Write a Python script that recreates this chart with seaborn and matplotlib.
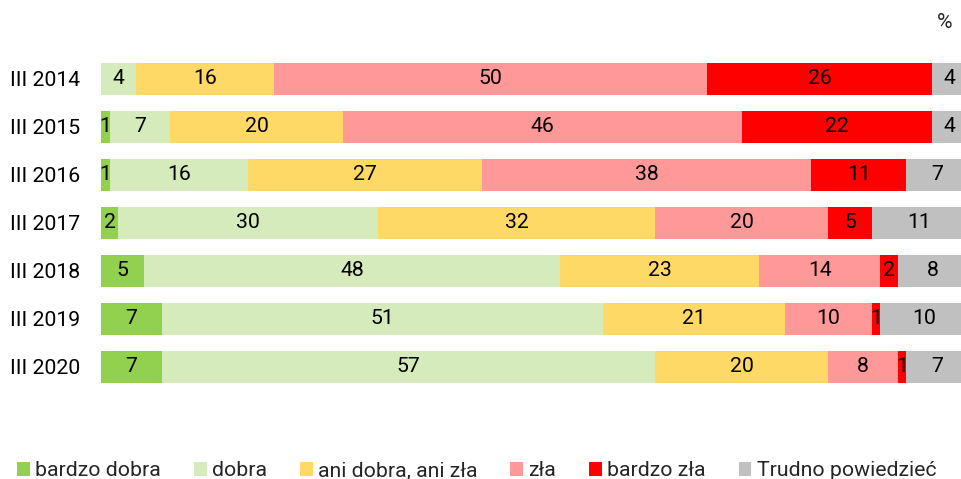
import numpy as np
import pandas as pd
import matplotlib
matplotlib.use('Agg')
import matplotlib.pyplot as plt
import seaborn as sns
from matplotlib.patches import Patch

sns.set_style('white')
plt.rcParams['font.family'] = ['Roboto', 'DejaVu Sans']

# Data (percent)
years = ['III 2014', 'III 2015', 'III 2016', 'III 2017',
         'III 2018', 'III 2019', 'III 2020']
categories = ['bardzo dobra', 'dobra', 'ani dobra, ani zła', 'zła',
              'bardzo zła', 'Trudno powiedzieć']
bardzo_dobra = [0, 1, 1, 2, 5, 7, 7]
dobra = [4, 7, 16, 30, 48, 51, 57]
ani_dobra_ani_zla = [16, 20, 27, 32, 23, 21, 20]
zla = [50, 46, 38, 20, 14, 10, 8]
bardzo_zla = [26, 22, 11, 5, 2, 1, 1]
trudno = [4, 4, 7, 11, 8, 10, 7]

colors = ['#92D050', '#D5EBBB', '#FFD966', '#FF9999', '#FF0000', '#C0C0C0']
font_size = 15.3

df = pd.DataFrame({'year': years,
                   categories[0]: bardzo_dobra,
                   categories[1]: dobra,
                   categories[2]: ani_dobra_ani_zla,
                   categories[3]: zla,
                   categories[4]: bardzo_zla,
                   categories[5]: trudno})
cum = df[categories].cumsum(axis=1)

fig = plt.figure(figsize=(9.61, 4.79), dpi=100)
ax = fig.add_axes([101 / 961, 1 - 391 / 479, 866 / 961, 336 / 479])

# Stack by overlaying cumulative totals, widest first
for cat, color in zip(categories[::-1], colors[::-1]):
    sns.barplot(x=cum[cat], y=df['year'], orient='h', color=color,
                saturation=1, width=0.667, edgecolor='none', linewidth=0,
                ax=ax)

# Segment labels
for i in range(len(years)):
    left = 0
    for cat in categories:
        val = df.loc[i, cat]
        if val > 0:
            ax.text(left + val / 2, i, str(val), ha='center', va='center',
                    fontsize=font_size, color='black')
        left += val

ax.set_xlim(0, 100)
ax.set_ylim(6.5, -0.5)
ax.set_xlabel('')
ax.set_ylabel('')
ax.set_xticks([])
ax.tick_params(axis='y', length=0, pad=15, labelsize=font_size,
               labelcolor='black')
sns.despine(ax=ax, left=True, bottom=True)

fig.text(945 / 961, 1 - 23 / 479, '%', ha='center', va='center',
         fontsize=font_size)

handles = [Patch(facecolor=c, edgecolor='none') for c in colors]
fig.legend(handles, categories, loc='center left',
           bbox_to_anchor=(17 / 961, 1 - 471 / 479), ncol=6,
           frameon=False, fontsize=font_size, handlelength=0.6,
           handleheight=0.6, handletextpad=0.25, columnspacing=1.55,
           borderpad=0, borderaxespad=0)

plt.savefig('out.png', dpi=100)
